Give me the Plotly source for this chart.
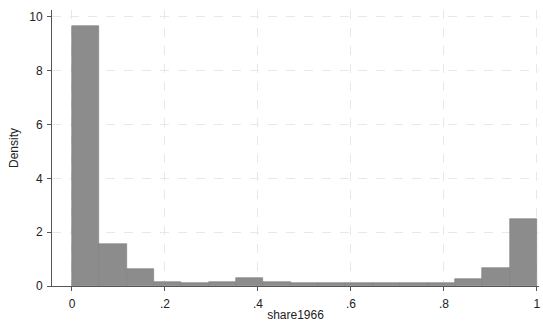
import plotly.graph_objects as go

# Histogram of share1966: 17 equal-width bins on [0, 1]
bin_start = 0.0
bin_end = 1.0
density = [9.67, 1.57, 0.62, 0.16, 0.10, 0.16, 0.29, 0.16, 0.10, 0.10,
           0.10, 0.10, 0.10, 0.10, 0.27, 0.67, 2.49]
x_ticks = [0, 0.2, 0.4, 0.6, 0.8, 1]
x_tick_labels = ["0", ".2", ".4", ".6", ".8", "1"]
y_ticks = [0, 2, 4, 6, 8, 10]
y_tick_labels = ["0", "2", "4", "6", "8", "10"]

n = len(density)
w = (bin_end - bin_start) / n
centers = [bin_start + (i + 0.5) * w for i in range(n)]

fig = go.Figure(go.Bar(
    x=centers, y=density, width=[w] * n,
    marker=dict(color="#8c8c8c", line=dict(color="#7d7d7d", width=0.6)),
))

axis_font = dict(family="Liberation Sans, Arial, sans-serif", size=12, color="#222")
fig.update_layout(
    width=543, height=322,
    margin=dict(l=52, r=4, t=10, b=36, autoexpand=False),
    paper_bgcolor="white", plot_bgcolor="white",
    showlegend=False, bargap=0,
    font=axis_font,
)
fig.update_xaxes(
    range=[-0.043, 1.0045],
    tickvals=x_ticks, ticktext=x_tick_labels,
    showgrid=True, gridcolor="#e8e8e8", griddash="dash", gridwidth=1,
    showline=True, linecolor="#555", linewidth=1,
    ticks="outside", ticklen=4, tickcolor="#555",
    zeroline=False, automargin=False, ticklabelstandoff=3,
    ticklabeloverflow="allow",
    title=dict(text="share1966", font=axis_font, standoff=2),
)
fig.update_yaxes(
    range=[0, 10.26],
    tickvals=y_ticks, ticktext=y_tick_labels,
    showgrid=True, gridcolor="#e8e8e8", griddash="dash", gridwidth=1,
    showline=True, linecolor="#555", linewidth=1,
    ticks="outside", ticklen=4, tickcolor="#555",
    zeroline=False, automargin=False, ticklabelstandoff=2,
    ticklabeloverflow="allow",
    title=dict(text="Density", font=axis_font, standoff=8),
)

fig.write_html(
    "out.html",
    config={"displayModeBar": False},
    post_script="document.body.style.margin='0';document.body.style.overflow='hidden';",
)
